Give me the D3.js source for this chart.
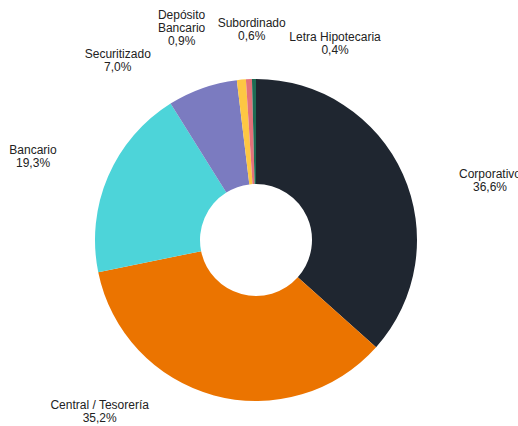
<!DOCTYPE html>
<html>
<head>
<meta charset="utf-8">
<script src="https://cdn.jsdelivr.net/npm/d3@7"></script>
<style>
  body { margin: 0; background: #fff; }
  svg { display: block; font-family: "Liberation Sans", Arial, sans-serif; }
</style>
</head>
<body>
<svg id="chart" width="518" height="426"></svg>
<script>
// categories and shares (%)
let categories = ['Corporativo', 'Central / Tesorería', 'Bancario', 'Securitizado', 'Depósito Bancario', 'Subordinado', 'Letra Hipotecaria']
let shares = [36.6, 35.2, 19.3, 7.0, 0.9, 0.6, 0.4]
// label lines as shown in the picture
let labelLines = [
    ['Corporativo'],
    ['Central / Tesorería'],
    ['Bancario'],
    ['Securitizado'],
    ['Depósito', 'Bancario'],
    ['Subordinado'],
    ['Letra Hipotecaria']
]
let colors = ['#1f2630', '#eb7400', '#4dd4d9', '#7b7bc0', '#fdc743', '#e3717a', '#1d6b53']

// label nudges from the arc centroid at labelRadius
let labelNudge = [[19.5, 37], [-95, -55], [-7, 9], [-60, 42], [-53, 22], [6, 24], [82, 38.5]]

let cx = 256
let cy = 240
let outerR = 161
let innerR = 56
let labelRadius = 235

let svg = d3.select('#chart')

let pie = d3.pie().sort(null).value(d => d)
let arcs = pie(shares)

let arc = d3.arc().innerRadius(innerR).outerRadius(outerR)
let labelArc = d3.arc().innerRadius(labelRadius).outerRadius(labelRadius)

let color = d3.scaleOrdinal().domain(categories).range(colors)

let g = svg.append('g').attr('transform', `translate(${cx},${cy})`)

g.selectAll('path')
    .data(arcs)
    .enter()
    .append('path')
    .attr('d', arc)
    .attr('fill', (d, i) => color(categories[i]))

let fmt = v => v.toFixed(1).replace('.', ',') + '%'

let labels = g.selectAll('text')
    .data(arcs)
    .enter()
    .append('text')
    .attr('text-anchor', 'middle')
    .attr('font-size', 12)
    .attr('fill', '#222')
    .attr('transform', (d, i) => {
        let c = labelArc.centroid(d)
        let lines = labelLines[i].length + 1
        // vertically center the block of lines
        let x = c[0] + labelNudge[i][0]
        let y = c[1] + labelNudge[i][1] - (lines - 1) * 13 / 2 + 4
        return `translate(${x},${y})`
    })

labels.each(function (d, i) {
    let t = d3.select(this)
    let lines = labelLines[i].concat([fmt(shares[i])])
    lines.forEach((s, k) => {
        t.append('tspan').attr('x', 0).attr('dy', k === 0 ? 0 : 13).text(s)
    })
})
</script>
</body>
</html>
